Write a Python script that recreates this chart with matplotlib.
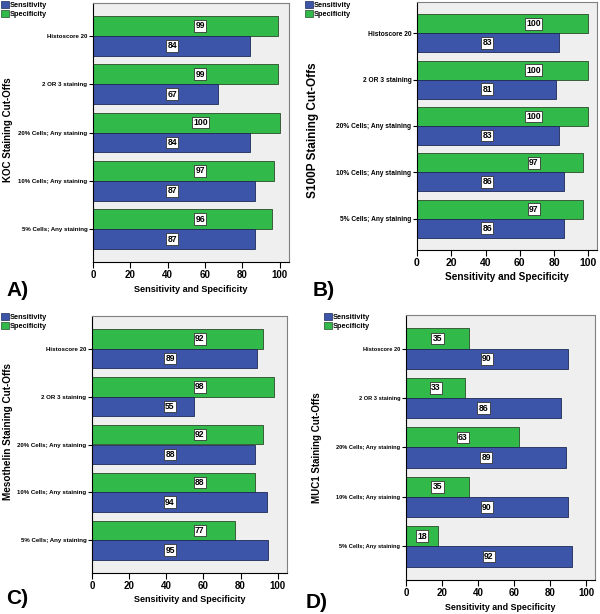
import matplotlib
matplotlib.use("Agg")
import matplotlib.pyplot as plt
from matplotlib.patches import Patch

plt.rcParams['font.family'] = 'Liberation Sans'
plt.rcParams['font.weight'] = 'bold'
plt.rcParams['axes.labelweight'] = 'bold'

categories = ['Histoscore 20', '2 OR 3 staining', '20% Cells; Any staining',
              '10% Cells; Any staining', '5% Cells; Any staining']

koc_sens = [84, 67, 84, 87, 87]
koc_spec = [99, 99, 100, 97, 96]
s100p_sens = [83, 81, 83, 86, 86]
s100p_spec = [100, 100, 100, 97, 97]
meso_sens = [89, 55, 88, 94, 95]
meso_spec = [92, 98, 92, 88, 77]
muc1_sens = [90, 86, 89, 90, 92]
muc1_spec = [35, 33, 63, 35, 18]

BLUE = '#3d55a8'
GREEN = '#31b94a'
W, H = 600, 614


def px_axes(left, top, right, bottom):
    return fig.add_axes([left / W, 1 - bottom / H, (right - left) / W, (bottom - top) / H])


def panel(ax, sens, spec, lab_spec, lab_sens, tfs, xfs, lfs):
    y = list(range(len(categories)))
    h = 0.41
    ax.set_facecolor('#efefef')
    ax.barh([v - h / 2 for v in y], spec, height=h, color=GREEN, edgecolor='#2a4a2a', linewidth=0.6)
    ax.barh([v + h / 2 for v in y], sens, height=h, color=BLUE, edgecolor='#1c2a55', linewidth=0.6)
    box = dict(boxstyle='square,pad=0.15', fc='white', ec='#333333', lw=0.6)
    for i in y:
        xs = lab_spec if lab_spec is not None else spec[i] / 2
        xb = lab_sens if lab_sens is not None else sens[i] / 2
        ax.text(xs, i - h / 2, str(spec[i]), ha='center', va='center', fontsize=6.2, bbox=box)
        ax.text(xb, i + h / 2, str(sens[i]), ha='center', va='center', fontsize=6.2, bbox=box)
    ax.set_xlim(0, 105)
    ax.set_ylim(4.68, -0.68)
    ax.set_yticks(y)
    ax.set_yticklabels(categories, fontsize=tfs)
    ax.set_xticks([0, 20, 40, 60, 80, 100])
    ax.tick_params(axis='x', labelsize=xfs, length=4, width=0.8, pad=2)
    ax.tick_params(axis='y', length=3, width=0.8, pad=1)
    ax.set_xlabel('Sensitivity and Specificity', fontsize=lfs, labelpad=3)
    for s in ax.spines.values():
        s.set_color('#808080')
        s.set_linewidth(0.8)
    ax.spines['left'].set_color('black')
    ax.spines['bottom'].set_color('black')


fig = plt.figure(figsize=(6, 6.14), dpi=100)

axA = px_axes(93, 3, 289, 262)
panel(axA, koc_sens, koc_spec, 57.5, 42.5, 4.4, 7, 6.6)
axB = px_axes(417, 2, 597, 250)
panel(axB, s100p_sens, s100p_spec, 68, 41, 4.8, 7.5, 7.2)
axC = px_axes(92, 316, 287, 573)
panel(axC, meso_sens, meso_spec, 58, 42, 4.4, 7, 6.5)
axD = px_axes(406, 315, 595, 580)
panel(axD, muc1_sens, muc1_spec, None, None, 4.1, 7, 6.4)


def ftext(x, y, s, **kw):
    fig.text(x / W, 1 - y / H, s, **kw)


ftext(8, 130, 'KOC Staining Cut-Offs', rotation=90, ha='center', va='center', fontsize=7)
ftext(313, 130, 'S100P Staining Cut-Offs', rotation=90, ha='center', va='center', fontsize=8.5)
ftext(8, 432, 'Mesothelin Staining Cut-Offs', rotation=90, ha='center', va='center', fontsize=7.2)
ftext(317, 448, 'MUC1 Staining Cut-Offs', rotation=90, ha='center', va='center', fontsize=7)

ftext(6, 290, 'A)', ha='left', va='center', fontsize=15)
ftext(313, 290, 'B)', ha='left', va='center', fontsize=15)
ftext(6, 598, 'C)', ha='left', va='center', fontsize=15)
ftext(306, 603, 'D)', ha='left', va='center', fontsize=15)

handles = [Patch(fc=BLUE, ec='#1c2a55', lw=0.5, label='Sensitivity'),
           Patch(fc=GREEN, ec='#2a4a2a', lw=0.5, label='Specificity')]
for (lx, ly) in [(0, 0), (304, 0), (0, 312), (323, 312)]:
    fig.legend(handles=handles, loc='upper left', bbox_to_anchor=(lx / W, 1 - ly / H),
               frameon=False, handlelength=1.0, handleheight=1.0,
               handletextpad=0.15, labelspacing=0.1, borderpad=0.2, borderaxespad=0,
               prop={'size': 5.3, 'weight': 'bold'})

fig.savefig('out.png', dpi=100)
